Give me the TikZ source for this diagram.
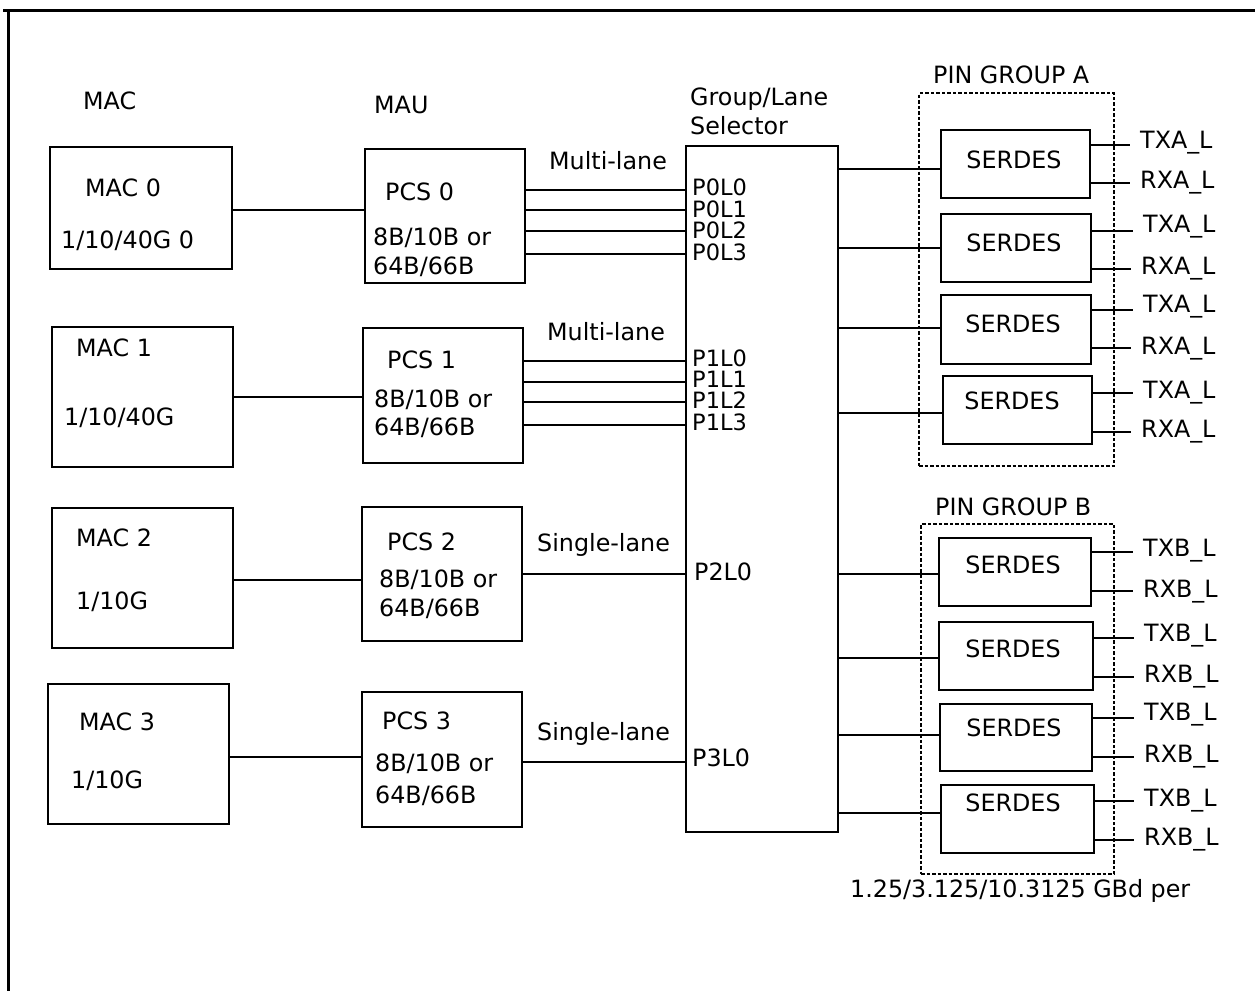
\documentclass[tikz,border=0pt]{standalone}
\usepackage{fontspec}
\setmainfont{DejaVu Sans}
\begin{document}
\begin{tikzpicture}[x=1pt,y=-1pt,
  every node/.style={font=\fontsize{23.8}{28}\selectfont},
  box/.style={draw, line width=2.8pt, inner sep=0pt},
  grp/.style={draw, line width=2.5pt, dash pattern=on 3.5pt off 2pt, inner sep=0pt},
  wire/.style={line width=2.8pt},
  lbl/.style={anchor=west, inner sep=0pt, text height=17.4pt, text depth=0pt},
  lane/.style={anchor=west, inner sep=0pt, text height=16pt, text depth=0pt, font=\fontsize{22.5}{24}\selectfont},
  ctr/.style={anchor=center, inner sep=0pt, text height=17.4pt, text depth=0pt},
  txl/.style={anchor=west, inner xsep=10pt, inner ysep=0pt, text height=17.4pt, text depth=0pt}
]
\useasboundingbox (0,0) rectangle (1255,991);
% frame
\draw[line width=3pt] (3,10.5) -- (1255,10.5);
\draw[line width=3pt] (8,9) -- (8,991);

% headings
\node[lbl] (hmac) at (83,101) {MAC};
\node[lbl] (hmau) at (374,105) {MAU};
\node[lbl] (hsel1) at (690,97) {Group/Lane};
\node[lbl] (hsel2) at (690,126) {Selector};
\node[lbl] (hpa) at (933,75) {PIN GROUP A};
\node[lbl] (hpb) at (935,507) {PIN GROUP B};
\node[lbl] (rate) at (850,889) {1.25/3.125/10.3125 GBd per};

% MAC boxes
\node[box, minimum width=182pt, minimum height=122pt] (mac0) at (141,208) {};
\node[box, minimum width=181pt, minimum height=140pt] (mac1) at (142.5,397) {};
\node[box, minimum width=181pt, minimum height=140pt] (mac2) at (142.5,578) {};
\node[box, minimum width=181pt, minimum height=140pt] (mac3) at (138.5,754) {};
\node[lbl] (tm0a) at (85,188) {MAC 0};
\node[lbl] (tm0b) at (61,240) {1/10/40G 0};
\node[lbl] (tm1a) at (76,348) {MAC 1};
\node[lbl] (tm1b) at (64,417) {1/10/40G};
\node[lbl] (tm2a) at (76,538) {MAC 2};
\node[lbl] (tm2b) at (76,601) {1/10G};
\node[lbl] (tm3a) at (79,722) {MAC 3};
\node[lbl] (tm3b) at (71,780) {1/10G};

% PCS boxes
\node[box, minimum width=160pt, minimum height=134pt] (pcs0) at (445,216) {};
\node[box, minimum width=160pt, minimum height=135pt] (pcs1) at (443,395.5) {};
\node[box, minimum width=160pt, minimum height=134pt] (pcs2) at (442,574) {};
\node[box, minimum width=160pt, minimum height=135pt] (pcs3) at (442,759.5) {};
\node[lbl] (tp0a) at (385,192) {PCS 0};
\node[lbl] (tp0b) at (373,237) {8B/10B or};
\node[lbl] (tp0c) at (373,266) {64B/66B};
\node[lbl] (tp1a) at (387,360) {PCS 1};
\node[lbl] (tp1b) at (374,399) {8B/10B or};
\node[lbl] (tp1c) at (374,427) {64B/66B};
\node[lbl] (tp2a) at (387,542) {PCS 2};
\node[lbl] (tp2b) at (379,579) {8B/10B or};
\node[lbl] (tp2c) at (379,608) {64B/66B};
\node[lbl] (tp3a) at (382,721) {PCS 3};
\node[lbl] (tp3b) at (375,763) {8B/10B or};
\node[lbl] (tp3c) at (375,795) {64B/66B};

% lane labels
\node[lbl] (ml0) at (549,161) {Multi-lane};
\node[lbl] (ml1) at (547,332) {Multi-lane};
\node[lbl] (sl2) at (537,543) {Single-lane};
\node[lbl] (sl3) at (537,732) {Single-lane};

% selector
\node[box, minimum width=152pt, minimum height=686pt] (sel) at (762,489) {};
\node[lane] (p0l0) at (692,187) {P0L0};
\node[lane] (p0l1) at (692,209) {P0L1};
\node[lane] (p0l2) at (692,230) {P0L2};
\node[lane] (p0l3) at (692,252) {P0L3};
\node[lane] (p1l0) at (692,358) {P1L0};
\node[lane] (p1l1) at (692,379) {P1L1};
\node[lane] (p1l2) at (692,400) {P1L2};
\node[lane] (p1l3) at (692,422) {P1L3};
\node[lbl] (p2l0) at (694,572) {P2L0};
\node[lbl] (p3l0) at (692,758) {P3L0};

% pin groups
\node[grp, minimum width=195pt, minimum height=373pt] (grpA) at (1016.5,279.5) {};
\node[grp, minimum width=193pt, minimum height=350pt] (grpB) at (1017.5,699) {};

% SERDES boxes
\node[box, minimum width=149pt, minimum height=68pt] (a1) at (1015.5,164) {};
\node[box, minimum width=150pt, minimum height=68pt] (a2) at (1016,248) {};
\node[box, minimum width=150pt, minimum height=69pt] (a3) at (1016,329.5) {};
\node[box, minimum width=149pt, minimum height=68pt] (a4) at (1017.5,410) {};
\node[box, minimum width=152pt, minimum height=68pt] (b1) at (1015,572) {};
\node[box, minimum width=154pt, minimum height=68pt] (b2) at (1016,656) {};
\node[box, minimum width=152pt, minimum height=67pt] (b3) at (1016,737.5) {};
\node[box, minimum width=153pt, minimum height=68pt] (b4) at (1017.5,819) {};
\node[ctr] (sa1) at (1014,160) {SERDES};
\node[ctr] (sa2) at (1014,243) {SERDES};
\node[ctr] (sa3) at (1013,324) {SERDES};
\node[ctr] (sa4) at (1012,401) {SERDES};
\node[ctr] (sb1) at (1013,565) {SERDES};
\node[ctr] (sb2) at (1013,649) {SERDES};
\node[ctr] (sb3) at (1014,728) {SERDES};
\node[ctr] (sb4) at (1013,803) {SERDES};

% TX / RX labels
\node[txl] (ta1) at (1130,140) {TXA\_L};
\node[txl] (ra1) at (1130,180) {RXA\_L};
\node[txl] (ta2) at (1133,224) {TXA\_L};
\node[txl] (ra2) at (1131,266) {RXA\_L};
\node[txl] (ta3) at (1133,304) {TXA\_L};
\node[txl] (ra3) at (1131,346) {RXA\_L};
\node[txl] (ta4) at (1133,390) {TXA\_L};
\node[txl] (ra4) at (1131,429) {RXA\_L};
\node[txl] (tb1) at (1133,548) {TXB\_L};
\node[txl] (rb1) at (1133,589) {RXB\_L};
\node[txl] (tb2) at (1134,633) {TXB\_L};
\node[txl] (rb2) at (1134,674) {RXB\_L};
\node[txl] (tb3) at (1134,712) {TXB\_L};
\node[txl] (rb3) at (1134,754) {RXB\_L};
\node[txl] (tb4) at (1134,798) {TXB\_L};
\node[txl] (rb4) at (1134,837) {RXB\_L};

% MAC -> PCS
\draw[wire] (mac0.east |- 0,210) -- (pcs0.west |- 0,210);
\draw[wire] (mac1.east |- 0,397) -- (pcs1.west |- 0,397);
\draw[wire] (mac2.east |- 0,580) -- (pcs2.west |- 0,580);
\draw[wire] (mac3.east |- 0,757) -- (pcs3.west |- 0,757);

% PCS -> selector
\foreach \yy in {190,210,231,254}{\draw[wire] (pcs0.east |- 0,\yy) -- (sel.west |- 0,\yy);}
\foreach \yy in {361,382,402,425}{\draw[wire] (pcs1.east |- 0,\yy) -- (sel.west |- 0,\yy);}
\draw[wire] (pcs2.east |- 0,574) -- (sel.west |- 0,574);
\draw[wire] (pcs3.east |- 0,762) -- (sel.west |- 0,762);

% selector -> SERDES
\draw[wire] (sel.east |- 0,169) -- (a1.west |- 0,169);
\draw[wire] (sel.east |- 0,248) -- (a2.west |- 0,248);
\draw[wire] (sel.east |- 0,328) -- (a3.west |- 0,328);
\draw[wire] (sel.east |- 0,413) -- (a4.west |- 0,413);
\draw[wire] (sel.east |- 0,574) -- (b1.west |- 0,574);
\draw[wire] (sel.east |- 0,658) -- (b2.west |- 0,658);
\draw[wire] (sel.east |- 0,735) -- (b3.west |- 0,735);
\draw[wire] (sel.east |- 0,813) -- (b4.west |- 0,813);

% SERDES -> pins
\draw[wire] (a1.east |- 0,145) -- (ta1.west |- 0,145);
\draw[wire] (a1.east |- 0,183) -- (ra1.west |- 0,183);
\draw[wire] (a2.east |- 0,231) -- (ta2.west |- 0,231);
\draw[wire] (a2.east |- 0,269) -- (ra2.west |- 0,269);
\draw[wire] (a3.east |- 0,310) -- (ta3.west |- 0,310);
\draw[wire] (a3.east |- 0,348) -- (ra3.west |- 0,348);
\draw[wire] (a4.east |- 0,393) -- (ta4.west |- 0,393);
\draw[wire] (a4.east |- 0,432) -- (ra4.west |- 0,432);
\draw[wire] (b1.east |- 0,552) -- (tb1.west |- 0,552);
\draw[wire] (b1.east |- 0,591) -- (rb1.west |- 0,591);
\draw[wire] (b2.east |- 0,638) -- (tb2.west |- 0,638);
\draw[wire] (b2.east |- 0,677) -- (rb2.west |- 0,677);
\draw[wire] (b3.east |- 0,718) -- (tb3.west |- 0,718);
\draw[wire] (b3.east |- 0,757) -- (rb3.west |- 0,757);
\draw[wire] (b4.east |- 0,801) -- (tb4.west |- 0,801);
\draw[wire] (b4.east |- 0,840) -- (rb4.west |- 0,840);
\end{tikzpicture}
\end{document}
